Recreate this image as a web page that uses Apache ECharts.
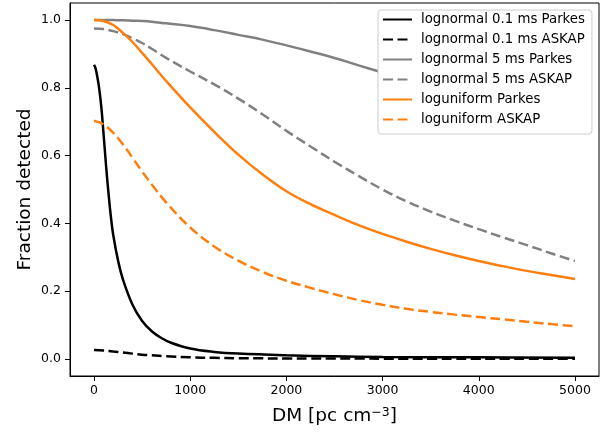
<!DOCTYPE html>
<html>
<head>
<meta charset="utf-8">
<script src="https://cdn.jsdelivr.net/npm/echarts@6/dist/echarts.min.js"></script>
<style>
html,body{margin:0;padding:0;background:#fff;}
#chart{width:608px;height:432px;}
</style>
</head>
<body>
<div id="chart"></div>
<script>
// x values (DM, pc cm^-3)
var dm = [0,100,200,300,400,500,600,750,1000,1250,1500,1750,2000,2250,2500,2750,3000,3250,3500,3750,4000,4250,4500,4750,5000];
var dmFine = [0,15,30,50,75,100,125,150,175,200,250,300,400,500,600,700,800,1000,1250,1500,2000,2500,3000,4000,5000];

// series values
var lognormal01Parkes = [0.868,0.858,0.838,0.805,0.745,0.66,0.57,0.49,0.42,0.365,0.29,0.235,0.16,0.112,0.082,0.062,0.048,0.031,0.021,0.016,0.011,0.008,0.006,0.005,0.004];
var lognormal01ASKAP = [0.027,0.025,0.022,0.019,0.016,0.013,0.011,0.008,0.005,0.0035,0.0025,0.002,0.0018,0.0016,0.0014,0.0013,0.0012,0.0011,0.001,0.001,0.0009,0.0009,0.0008,0.0008,0.0008];
var lognormal5Parkes = [1.0,1.0,0.9995,0.999,0.998,0.997,0.995,0.99,0.982,0.97,0.956,0.942,0.925,0.907,0.888,0.866,0.845,0.823,0.802,0.783,0.764,0.746,0.729,0.713,0.698];
var lognormal5ASKAP = [0.975,0.973,0.967,0.958,0.946,0.932,0.915,0.888,0.848,0.81,0.768,0.722,0.673,0.627,0.582,0.54,0.5,0.465,0.435,0.408,0.383,0.359,0.336,0.312,0.289];
var loguniformParkes = [1.0,0.997,0.985,0.962,0.935,0.903,0.87,0.82,0.742,0.67,0.603,0.545,0.495,0.457,0.425,0.395,0.369,0.346,0.325,0.306,0.289,0.274,0.26,0.248,0.236];
var loguniformASKAP = [0.703,0.692,0.667,0.633,0.594,0.553,0.515,0.462,0.388,0.332,0.29,0.257,0.231,0.21,0.191,0.174,0.16,0.148,0.139,0.131,0.124,0.117,0.11,0.103,0.097];

// tick labels
var xTicks = [0,1000,2000,3000,4000,5000];
var yTicks = [0.0,0.2,0.4,0.6,0.8,1.0];

function pairs(xs, ys){ return xs.map(function(x,i){ return [x, ys[i]]; }); }

var FONT = 'DejaVu Sans';
var dash = [10, 4.5];

function lineSeries(name, xs, ys, color, dashed){
  return {
    name: name, type: 'line', data: pairs(xs, ys),
    showSymbol: false, symbol: 'none', smooth: 0.4,
    lineStyle: {color: color, width: 2.5, type: dashed ? dash : 'solid'},
    itemStyle: {color: color},
    emphasis: {disabled: true}, animation: false
  };
}

var chart = echarts.init(document.getElementById('chart'), null, {renderer: 'canvas'});
chart.setOption({
  animation: false,
  backgroundColor: '#ffffff',
  grid: {left: 70, right: 9, top: 3, bottom: 56, show: true, borderColor: '#000', borderWidth: 1, backgroundColor: 'transparent'},
  xAxis: {
    type: 'value', min: -250, max: 5250,
    name: 'DM [pc cm{sup|\u22123}]', nameLocation: 'middle', nameGap: 30,
    nameTextStyle: {fontFamily: FONT, fontSize: 18.5, color: '#000',
      rich: {sup: {fontFamily: FONT, fontSize: 12.5, color: '#000', verticalAlign: 'top', padding: [0,0,8,0]}}},
    axisLine: {show: true, onZero: false, lineStyle: {color: '#000', width: 1}},
    axisTick: {show: true, length: 5, inside: false, customValues: xTicks, lineStyle: {color: '#000', width: 1}},
    axisLabel: {show: true, margin: 8, customValues: xTicks, fontFamily: FONT, fontSize: 12.5, color: '#000',
      formatter: function(v){ return String(v); }},
    splitLine: {show: false}
  },
  yAxis: {
    type: 'value', min: -0.05, max: 1.05,
    name: 'Fraction detected', nameLocation: 'middle', nameGap: 35, nameMoveOverlap: false,
    nameTextStyle: {fontFamily: FONT, fontSize: 18.5, color: '#000'},
    axisLine: {show: true, onZero: false, lineStyle: {color: '#000', width: 1}},
    axisTick: {show: true, length: 5, inside: false, customValues: yTicks, lineStyle: {color: '#000', width: 1}},
    axisLabel: {show: true, margin: 9, customValues: yTicks, fontFamily: FONT, fontSize: 12.5, color: '#000',
      formatter: function(v){ return v.toFixed(1); }},
    splitLine: {show: false}
  },
  legend: {
    show: true, orient: 'vertical', left: 378, top: 10,
    backgroundColor: '#ffffff', borderColor: '#cccccc', borderWidth: 1, borderRadius: 3,
    padding: [3, 7, 8, 4],
    itemWidth: 29, itemHeight: 14, itemGap: 7,
    itemStyle: {opacity: 0},
    textStyle: {fontFamily: FONT, fontSize: 13.3, color: '#000', padding: [0,0,0,4]},
    data: ['lognormal 0.1 ms Parkes','lognormal 0.1 ms ASKAP','lognormal 5 ms Parkes','lognormal 5 ms ASKAP','loguniform Parkes','loguniform ASKAP']
  },
  series: [
    lineSeries('lognormal 0.1 ms Parkes', dmFine, lognormal01Parkes, '#000000', false),
    lineSeries('lognormal 0.1 ms ASKAP', dm, lognormal01ASKAP, '#000000', true),
    lineSeries('lognormal 5 ms Parkes', dm, lognormal5Parkes, '#808080', false),
    lineSeries('lognormal 5 ms ASKAP', dm, lognormal5ASKAP, '#808080', true),
    lineSeries('loguniform Parkes', dm, loguniformParkes, '#ff7f0e', false),
    lineSeries('loguniform ASKAP', dm, loguniformASKAP, '#ff7f0e', true)
  ]
});
</script>
</body>
</html>
